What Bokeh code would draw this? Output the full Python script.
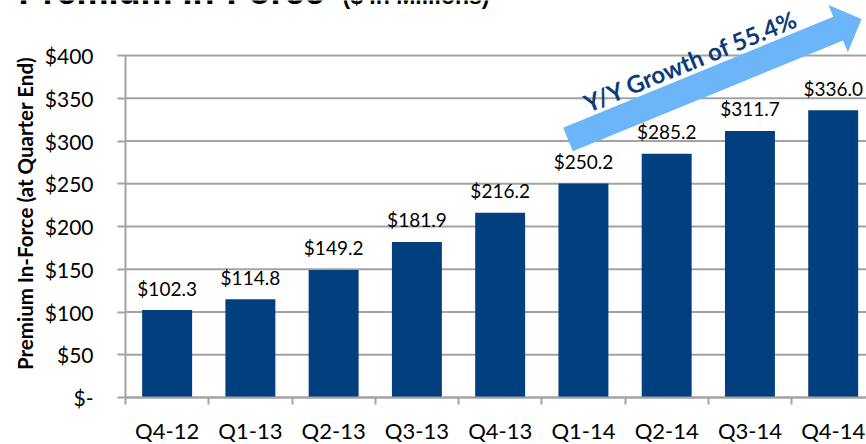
import math
from bokeh.plotting import figure
from bokeh.models import Range1d, FixedTicker, Label, ColumnDataSource
from bokeh.core.properties import value
from bokeh.embed import file_html
from bokeh.resources import INLINE

# ---- data ----
quarters = ["Q4-12", "Q1-13", "Q2-13", "Q3-13", "Q4-13", "Q1-14", "Q2-14", "Q3-14", "Q4-14"]
premium = [102.3, 114.8, 149.2, 181.9, 216.2, 250.2, 285.2, 311.7, 336.0]
value_labels = ["$102.3", "$114.8", "$149.2", "$181.9", "$216.2", "$250.2", "$285.2", "$311.7", "$336.0"]
y_ticks = [0, 50, 100, 150, 200, 250, 300, 350, 400]
y_tick_labels = ["$-", "$50", "$100", "$150", "$200", "$250", "$300", "$350", "$400"]
growth_text = "Y/Y Growth of 55.4%"
title_main = "Premium In-Force"
title_sub = "($ in Millions)"
y_title = "Premium In-Force (at Quarter End)"

# ---- layout geometry (frame covers the whole canvas; axes are pinned) ----
W, H = 866, 444
AXIS_X_PX, AXIS_Y_PX, TOP400_PX = 125, 397, 55
X_END = 8.9
px_per_x = (W - AXIS_X_PX) / X_END
X_START = -AXIS_X_PX / px_per_x
px_per_y = (AXIS_Y_PX - TOP400_PX) / 400.0
Y_START = -(H - AXIS_Y_PX) / px_per_y
Y_END = AXIS_Y_PX / px_per_y


def to_data(px, py):
    return (X_START + px / px_per_x, Y_START + (H - py) / px_per_y)


GRID = "#a3a3a3"
BAR = "#023f7e"
ARROW = "#6db5f9"
TXT_BLUE = "#0b3c78"

p = figure(width=W, height=H, x_range=Range1d(X_START, X_END), y_range=Range1d(Y_START, Y_END),
           output_backend="svg", toolbar_location=None,
           min_border_left=0, min_border_right=0, min_border_top=0, min_border_bottom=0)
p.outline_line_color = None
p.background_fill_color = "white"
p.border_fill_color = "white"

xs = [i + 0.5 for i in range(len(quarters))]
src = ColumnDataSource(dict(x=xs, top=premium, label=value_labels))

# horizontal gridlines from the y axis to the right edge
p.xgrid.visible = False
p.ygrid.visible = False
p.segment(x0=[0] * len(y_ticks), x1=[X_END] * len(y_ticks), y0=y_ticks, y1=y_ticks,
          line_color=GRID, line_width=2)

# y axis pinned at x = 0
yax = p.yaxis[0]
yax.fixed_location = 0
yax.ticker = FixedTicker(ticks=y_ticks)
yax.bounds = (0, 400)
yax.major_label_overrides = {t: lab for t, lab in zip(y_ticks, y_tick_labels)}
yax.axis_line_color = GRID
yax.axis_line_width = 2
yax.major_tick_line_color = GRID
yax.major_tick_line_width = 2
yax.major_tick_out = 8
yax.major_tick_in = 0
yax.minor_tick_line_color = None
yax.major_label_standoff = 24
yax.major_label_text_font = "Lato"
yax.major_label_text_font_size = "21px"
yax.major_label_text_color = "black"

# x axis pinned at y = 0
xax = p.xaxis[0]
xax.fixed_location = 0
xax.bounds = (0, X_END)
xax.ticker = FixedTicker(ticks=xs, minor_ticks=list(range(len(quarters) + 1)))
xax.major_label_overrides = {x: q for x, q in zip(xs, quarters)}
xax.axis_line_color = GRID
xax.axis_line_width = 2
xax.major_tick_line_color = None
xax.major_tick_out = 0
xax.major_tick_in = 0
xax.minor_tick_line_color = GRID
xax.minor_tick_line_width = 2
xax.minor_tick_out = 7
xax.minor_tick_in = 0
xax.major_label_standoff = 12
xax.major_label_text_font = "Lato"
xax.major_label_text_font_size = "22px"
xax.major_label_text_color = "black"

# bars and value labels
p.vbar(x="x", top="top", width=0.6, source=src, fill_color=BAR, line_color=None)
p.text(x="x", y="top", text="label", source=src, text_align="center",
       text_baseline="middle", y_offset=-22, text_font=value("Lato"),
       text_font_size="19px", text_color="black")

# growth arrow (annotation geometry in pixels)
ang = math.radians(22.3)
d = (math.cos(ang), -math.sin(ang))
n = (math.sin(ang), math.cos(ang))
c0 = (567.5, 139.0)
sw, shaft_len, hw, head_len = 12.8, 292.0, 25.5, 25.3


def pt(a, b):
    return (c0[0] + d[0] * a + n[0] * b, c0[1] + d[1] * a + n[1] * b)


poly_px = [pt(0, -sw), pt(shaft_len, -sw), pt(shaft_len, -hw), pt(shaft_len + head_len, 0),
           pt(shaft_len, hw), pt(shaft_len, sw), pt(0, sw)]
poly = [to_data(*q) for q in poly_px]
p.patch([q[0] for q in poly], [q[1] for q in poly], fill_color=ARROW, line_color=None)

gx, gy = to_data(690, 60)
p.add_layout(Label(x=gx, y=gy, text=growth_text, angle=ang, text_align="center",
                   text_baseline="middle", text_font="Lato", text_font_style="bold",
                   text_font_size="24px", text_color=TXT_BLUE))

# chart title, cut off at the top edge like the reference (box bottom = baseline + descent)
tx, ty = to_data(18, 3.5 + 7.6)
p.add_layout(Label(x=tx, y=ty, text=title_main, text_align="left", text_baseline="bottom",
                   text_font="Liberation Sans", text_font_style="bold", text_font_size="36px",
                   text_color="black"))
sx, sy = to_data(342, 3.5 + 4.9)
p.add_layout(Label(x=sx, y=sy, text=title_sub, text_align="left", text_baseline="bottom",
                   text_font="Liberation Sans", text_font_style="bold", text_font_size="23px",
                   text_color="black"))

# y axis title
lx, ly = to_data(24, 213)
p.add_layout(Label(x=lx, y=ly, text=y_title, angle=math.pi / 2, text_align="center",
                   text_baseline="middle", text_font="Lato", text_font_style="bold",
                   text_font_size="20.5px", text_color="black"))

open("out.html", "w").write(file_html(p, INLINE))
